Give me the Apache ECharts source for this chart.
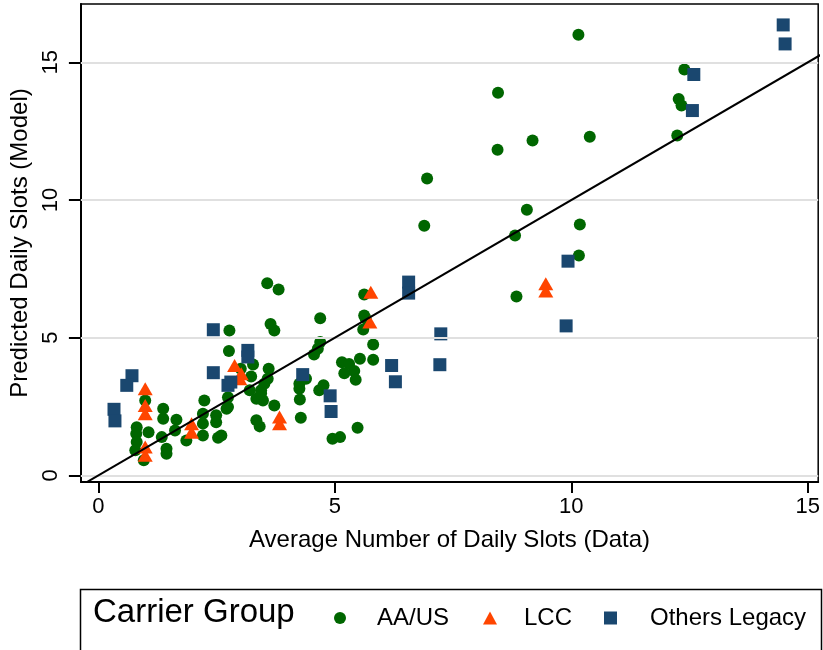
<!DOCTYPE html>
<html>
<head>
<meta charset="utf-8">
<script src="https://cdn.jsdelivr.net/npm/echarts@6/dist/echarts.min.js"></script>
<style>
  html, body { margin: 0; padding: 0; background: #fff; }
  #chart { width: 823px; height: 650px; }
</style>
</head>
<body>
<div id="chart"></div>
<script>
// Carrier groups: [average daily slots (data), predicted daily slots (model)]
const aaUs = [
  [0.99, 2.72], [1.37, 2.42], [1.37, 2.06], [1.65, 2.02], [0.81, 1.75], [0.80, 1.51],
  [1.06, 1.57], [1.34, 1.39], [1.62, 1.63], [1.86, 1.27], [0.81, 1.21], [0.78, 0.91],
  [1.44, 0.97], [1.44, 0.79], [0.96, 0.55],
  [2.24, 2.72], [2.74, 2.84], [2.71, 2.42], [2.49, 2.18], [2.21, 2.24], [2.21, 1.88],
  [2.49, 1.93], [2.21, 1.45], [2.53, 1.37], [2.60, 1.45], [2.74, 2.48], [2.76, 4.52],
  [3.01, 3.87], [3.27, 4.03], [3.23, 3.59], [3.60, 3.87], [3.58, 3.51], [3.20, 3.09],
  [3.44, 3.09], [3.48, 2.72], [3.72, 2.54], [3.34, 2.78], [3.34, 2.00], [3.41, 1.78],
  [2.77, 5.26], [3.57, 6.98], [3.81, 6.75], [3.64, 5.50], [3.72, 5.26], [3.51, 3.33],
  [3.44, 2.97],
  [4.69, 5.71], [5.62, 6.57], [5.62, 5.81], [5.65, 5.70], [5.60, 5.30], [4.69, 4.84],
  [4.64, 4.60], [4.56, 4.39], [5.81, 4.75], [5.81, 4.20], [5.53, 4.24], [5.15, 4.11],
  [5.30, 4.05], [5.20, 3.71], [5.41, 3.79], [5.44, 3.47], [4.39, 3.51], [4.25, 3.33],
  [4.25, 3.15], [4.67, 3.09], [4.76, 3.27], [4.26, 2.76], [4.28, 2.09], [5.48, 1.73],
  [4.95, 1.33], [5.11, 1.39],
  [10.15, 16.0], [8.45, 13.9], [8.44, 11.83], [9.18, 12.16], [10.39, 12.3], [6.95, 10.78],
  [6.89, 9.07], [9.06, 9.65], [10.18, 9.11], [8.81, 8.71], [10.16, 7.99], [8.84, 6.50],
  [12.39, 14.74], [12.27, 13.67], [12.33, 13.43], [12.24, 12.34]
];
const lcc = [
  [0.99, 3.15], [0.99, 2.54], [0.99, 2.24], [0.99, 1.03], [0.99, 0.73], [1.97, 1.88],
  [1.97, 1.57], [2.88, 3.99], [2.99, 3.51], [3.02, 3.69], [3.83, 2.12], [3.83, 1.88],
  [5.76, 6.65], [5.74, 5.57], [9.46, 6.96], [9.46, 6.70]
];
const othersLegacy = [
  [0.71, 3.62], [0.60, 3.27], [0.33, 2.40], [0.35, 1.98], [2.43, 5.29], [2.43, 3.73],
  [2.74, 3.27], [2.80, 3.39], [3.16, 4.54], [3.16, 4.30], [4.32, 3.66], [4.90, 2.89],
  [4.92, 2.32], [6.20, 3.99], [6.28, 3.40], [6.56, 7.02], [6.56, 6.62], [7.24, 5.14],
  [7.22, 4.02], [9.93, 7.78], [9.89, 5.43], [14.48, 16.36], [14.52, 15.67],
  [12.59, 14.56], [12.56, 13.25]
];
// 45-degree reference line endpoints
const diagonal = [[-0.5, -0.5], [15.5, 15.5]];
const tickValues = [0, 5, 10, 15];
const gridValues = [0, 5, 10, 15];

const xRange = [-0.37, 15.22];
const yRange = [-0.24, 17.12];

const FONT = '"Liberation Sans", Arial, sans-serif';
const chart = echarts.init(document.getElementById('chart'), null, { renderer: 'canvas' });

// One legend block per group so each key sits at its own spot in the box
function legendItem(name, left, textPad, iconW, iconH) {
  return {
    data: [name], left: left, top: 601, orient: 'horizontal',
    itemWidth: iconW, itemHeight: iconH,
    textStyle: { fontFamily: FONT, fontSize: 24, color: '#000', padding: [0, 0, 0, textPad] },
    selectedMode: false
  };
}

chart.setOption({
  animation: false,
  backgroundColor: '#fff',
  textStyle: { fontFamily: FONT },
  grid: {
    left: 79, right: 3, top: 4, bottom: 168,
    show: true, borderColor: '#000', borderWidth: 1.5, backgroundColor: '#fff'
  },
  xAxis: {
    type: 'value', min: xRange[0], max: xRange[1],
    axisLine: { show: true, onZero: false, lineStyle: { color: '#000', width: 2 } },
    axisTick: { show: true, customValues: tickValues, length: 11, lineStyle: { color: '#000', width: 2 } },
    axisLabel: { customValues: tickValues, fontSize: 22, color: '#000', margin: 14, fontFamily: FONT },
    splitLine: { show: false },
    name: 'Average Number of Daily Slots (Data)',
    nameLocation: 'middle', nameGap: 46,
    nameTextStyle: { fontSize: 24, color: '#000', fontFamily: FONT }
  },
  yAxis: {
    type: 'value', min: yRange[0], max: yRange[1],
    axisLine: { show: true, onZero: false, lineStyle: { color: '#000', width: 2 } },
    axisTick: { show: true, customValues: tickValues, length: 12, lineStyle: { color: '#000', width: 2 } },
    axisLabel: { customValues: tickValues, rotate: 90, fontSize: 22, color: '#000', margin: 19, fontFamily: FONT },
    splitLine: { show: false },
    name: 'Predicted Daily Slots (Model)',
    nameLocation: 'middle', nameGap: 40,
    nameTextStyle: { fontSize: 24, color: '#000', fontFamily: FONT }
  },
  legend: [
    legendItem('AA/US', 329, 26, 12, 12),
    legendItem('LCC', 478, 22, 14, 13),
    legendItem('Others Legacy', 599, 28, 13, 13)
  ],
  graphic: [
    {
      type: 'rect', left: 78, top: 587,
      shape: { x: 0, y: 0, width: 741, height: 80 },
      style: { fill: 'none', stroke: '#000', lineWidth: 1.5 }
    },
    {
      type: 'text', left: 93, top: 596,
      style: { text: 'Carrier Group', font: '33px ' + FONT, fill: '#000' }
    }
  ],
  series: [
    {
      name: 'grid', type: 'line', data: [], z: 0, silent: true,
      markLine: {
        silent: true, symbol: 'none', label: { show: false },
        lineStyle: { color: '#e0e0e0', width: 2, type: 'solid' },
        data: gridValues.map(v => ({ yAxis: v }))
      }
    },
    {
      name: 'AA/US', type: 'scatter', data: aaUs, z: 2,
      symbol: 'circle', symbolSize: 12,
      itemStyle: { color: '#006600', opacity: 1 }
    },
    {
      name: 'LCC', type: 'scatter', data: lcc, z: 3,
      symbol: 'triangle', symbolSize: [15, 13],
      itemStyle: { color: '#ff4500', opacity: 1 }
    },
    {
      name: 'Others Legacy', type: 'scatter', data: othersLegacy, z: 4,
      symbol: 'rect', symbolSize: 13,
      itemStyle: { color: '#1a476f', opacity: 1 }
    },
    {
      name: 'diagonal', type: 'line', data: diagonal, z: 5, clip: true,
      symbol: 'none', silent: true,
      lineStyle: { color: '#000', width: 2 }
    }
  ]
});
</script>
</body>
</html>
